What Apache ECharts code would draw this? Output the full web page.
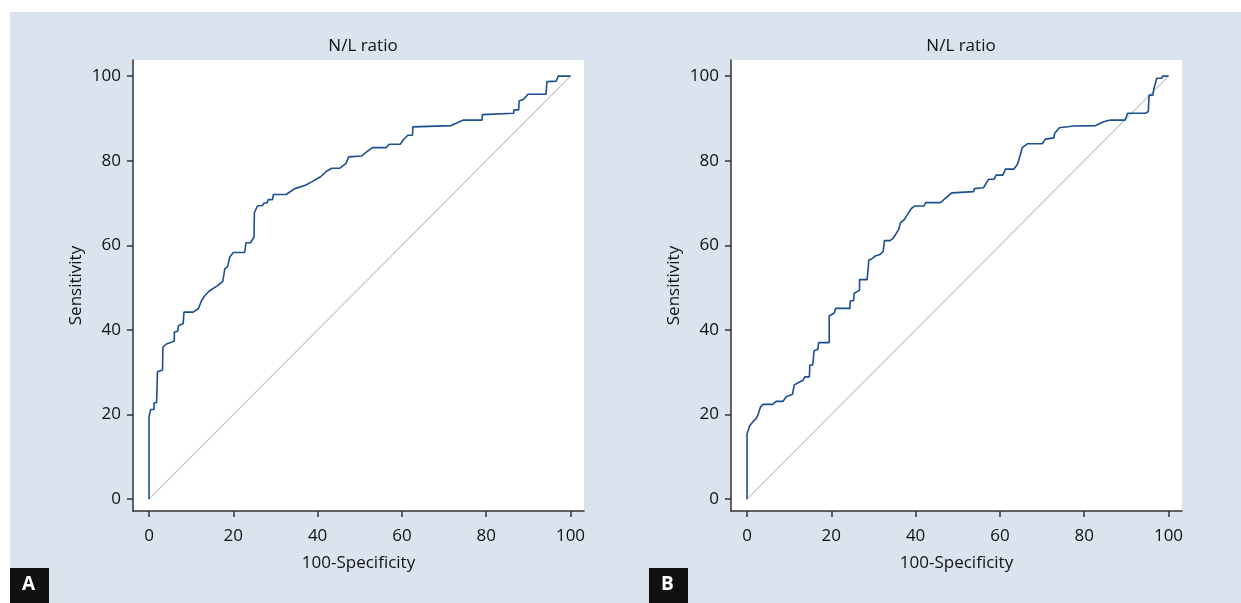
<!DOCTYPE html>
<html>
<head>
<meta charset="utf-8">
<script src="https://cdn.jsdelivr.net/npm/echarts@6/dist/echarts.min.js"></script>
<style>
  html, body { margin: 0; padding: 0; background: #fff; }
  #chart { width: 1241px; height: 603px; }
</style>
</head>
<body>
<div id="chart"></div>
<script>
// tick labels shared by both panels
var ticks = [0, 20, 40, 60, 80, 100];

// panel A: ROC curve (100-Specificity, Sensitivity)
var fprA = [0, 0, 0.4, 1.2, 1.2, 1.8, 2, 2.3, 3.2, 3.3, 4, 5.1, 6, 6, 6.8, 7, 8.1, 8.3, 10.5, 11.7,
  12.5, 13.3, 14.3, 15.2, 16.2, 17.5, 18, 18.6, 19.2, 20, 22.7, 23, 24.1, 24.9, 25, 25.7, 26.9, 27.3,
  28, 28.3, 29.3, 29.5, 32.5, 34.6, 37.1, 38.6, 40.7, 42.1, 43.4, 45.2, 46.7, 47.4, 50.4, 51.4, 53,
  56.3, 57, 59.6, 60.4, 61.4, 62.5, 62.6, 71.7, 74.6, 79, 79.1, 86.5, 86.6, 87.7, 87.8, 88.9, 89.9,
  94.2, 94.4, 96.6, 97.1, 100];
var tprA = [0, 19.5, 21.2, 21.2, 22.8, 22.8, 30.1, 30.5, 30.5, 35.9, 36.6, 37, 37.4, 39.5, 39.7, 41, 41.5, 44.2, 44.2, 45,
  47, 48.2, 49.2, 49.8, 50.4, 51.5, 54.5, 54.9, 57.3, 58.3, 58.3, 60.6, 60.6, 61.9, 67.7, 69.3, 69.4, 70,
  70, 70.8, 70.8, 72, 72, 73.4, 74.2, 75, 76.2, 77.5, 78.2, 78.2, 79.3, 80.9, 81.1, 81.9, 83.1,
  83.1, 83.9, 83.9, 85, 86, 86, 88, 88.3, 89.6, 89.6, 90.9, 91.2, 92, 92, 94.1, 94.5, 95.7,
  95.7, 98.7, 98.8, 100, 100];

// panel B: ROC curve
var fprB = [0, 0, 0.4, 0.6, 1.4, 2.2, 2.6, 3.2, 3.8, 6.1, 6.9, 8.5, 9.3, 10.8, 11.2, 12.1, 13.3, 13.7,
  14.8, 14.9, 15.6, 15.9, 16.8, 17, 19.5, 19.5, 20.7, 21, 24.4, 24.5, 25.3, 25.4, 26.7, 26.7, 28.5,
  28.9, 29.5, 30.3, 31.5, 32.3, 32.6, 33.9, 34.6, 35.4, 36, 36.4, 37.4, 38.2, 39, 39.8, 42, 42.4,
  45.9, 46.9, 48.6, 53.8, 53.9, 56.1, 57.3, 58.6, 59.1, 60.7, 61.3, 63.3, 64.2, 64.8, 65.3, 66.5,
  70, 70.8, 72.8, 73, 74.1, 77.5, 82.7, 84.6, 86.2, 89.7, 90.3, 94.5, 95.2, 95.4, 96.3, 96.5, 97.2,
  98.4, 98.6, 100];
var tprB = [0, 15.4, 15.4, 17.3, 18.3, 19.1, 19.9, 21.8, 22.4, 22.4, 23.1, 23.1, 24.2, 24.8, 27, 27.5, 28.1, 28.9,
  28.9, 31.7, 31.7, 35.1, 35.4, 37, 37, 43.3, 44, 45.1, 45.1, 46.9, 46.9, 48.6, 49.4, 51.9, 51.9,
  56.5, 56.7, 57.4, 57.8, 58.5, 61.1, 61.1, 61.6, 62.8, 63.8, 65.3, 66.2, 67.5, 68.7, 69.3, 69.3, 70.1,
  70.1, 71, 72.4, 72.7, 73.4, 73.6, 75.6, 75.6, 76.6, 76.6, 78, 78, 79.2, 81.3, 83.1, 84,
  84, 85.1, 85.4, 86.5, 87.8, 88.2, 88.3, 89.2, 89.6, 89.6, 91.2, 91.2, 91.6, 95.5, 95.5, 96.9, 99.5,
  99.5, 100, 100];

var diag = [[0, 0], [100, 100]];

function pairs(xs, ys) {
  return xs.map(function (x, i) { return [x, ys[i]]; });
}

var font = "'Open Sans', 'Noto Sans', sans-serif";
var textColor = "#111111";
var axisColor = "#333333";

function makeX(idx) {
  return {
    type: "value",
    gridIndex: idx,
    min: -3.8,
    max: 103.2,
    name: "100-Specificity",
    nameLocation: "middle",
    nameGap: 44,
    nameTextStyle: { fontFamily: font, fontSize: 17, color: textColor },
    axisLine: { show: true, onZero: false, lineStyle: { color: axisColor, width: 1.5 } },
    axisTick: { show: true, length: 6, customValues: ticks, lineStyle: { color: axisColor, width: 1.5 } },
    axisLabel: { customValues: ticks, margin: 17, fontFamily: font, fontSize: 17, color: textColor },
    splitLine: { show: false }
  };
}

function makeY(idx) {
  return {
    type: "value",
    gridIndex: idx,
    min: -2.8,
    max: 103.8,
    name: "Sensitivity",
    nameLocation: "middle",
    nameGap: 48,
    nameTextStyle: { fontFamily: font, fontSize: 17, color: textColor },
    axisLine: { show: true, onZero: false, lineStyle: { color: axisColor, width: 1.5 } },
    axisTick: { show: true, length: 6, customValues: ticks, lineStyle: { color: axisColor, width: 1.5 } },
    axisLabel: { customValues: ticks, margin: 12, fontFamily: font, fontSize: 17, color: textColor },
    splitLine: { show: false }
  };
}

var chart = echarts.init(document.getElementById("chart"), null, { renderer: "canvas" });

chart.setOption({
  backgroundColor: "#ffffff",
  animation: false,
  graphic: [
    { type: "rect", z: -10, silent: true, shape: { x: 10, y: 12, width: 1231, height: 591 }, style: { fill: "#dae4ee" } },
    { type: "rect", z: 10, shape: { x: 10, y: 568, width: 39, height: 35 }, style: { fill: "#111111" } },
    { type: "text", z: 11, left: 22, top: 575, style: { text: "A", fill: "#ffffff", font: "bold 19px " + font } },
    { type: "rect", z: 10, shape: { x: 649, y: 568, width: 39, height: 35 }, style: { fill: "#111111" } },
    { type: "text", z: 11, left: 661, top: 575, style: { text: "B", fill: "#ffffff", font: "bold 19px " + font } }
  ],
  title: [
    { text: "N/L ratio", left: 358, top: 33, textAlign: "center",
      textStyle: { fontFamily: font, fontSize: 17, fontWeight: "normal", color: textColor } },
    { text: "N/L ratio", left: 956, top: 33, textAlign: "center",
      textStyle: { fontFamily: font, fontSize: 17, fontWeight: "normal", color: textColor } }
  ],
  grid: [
    { left: 133, top: 60, width: 451, height: 451, show: true, backgroundColor: "#ffffff", borderWidth: 0 },
    { left: 731, top: 60, width: 451, height: 451, show: true, backgroundColor: "#ffffff", borderWidth: 0 }
  ],
  xAxis: [makeX(0), makeX(1)],
  yAxis: [makeY(0), makeY(1)],
  series: [
    { type: "line", xAxisIndex: 0, yAxisIndex: 0, data: diag, symbol: "none",
      lineStyle: { color: "#c4c4c4", width: 1.2 } },
    { type: "line", xAxisIndex: 0, yAxisIndex: 0, data: pairs(fprA, tprA), symbol: "none",
      lineStyle: { color: "#1a4f91", width: 1.6 } },
    { type: "line", xAxisIndex: 1, yAxisIndex: 1, data: diag, symbol: "none",
      lineStyle: { color: "#c4c4c4", width: 1.2 } },
    { type: "line", xAxisIndex: 1, yAxisIndex: 1, data: pairs(fprB, tprB), symbol: "none",
      lineStyle: { color: "#1a4f91", width: 1.6 } }
  ]
});
</script>
</body>
</html>
